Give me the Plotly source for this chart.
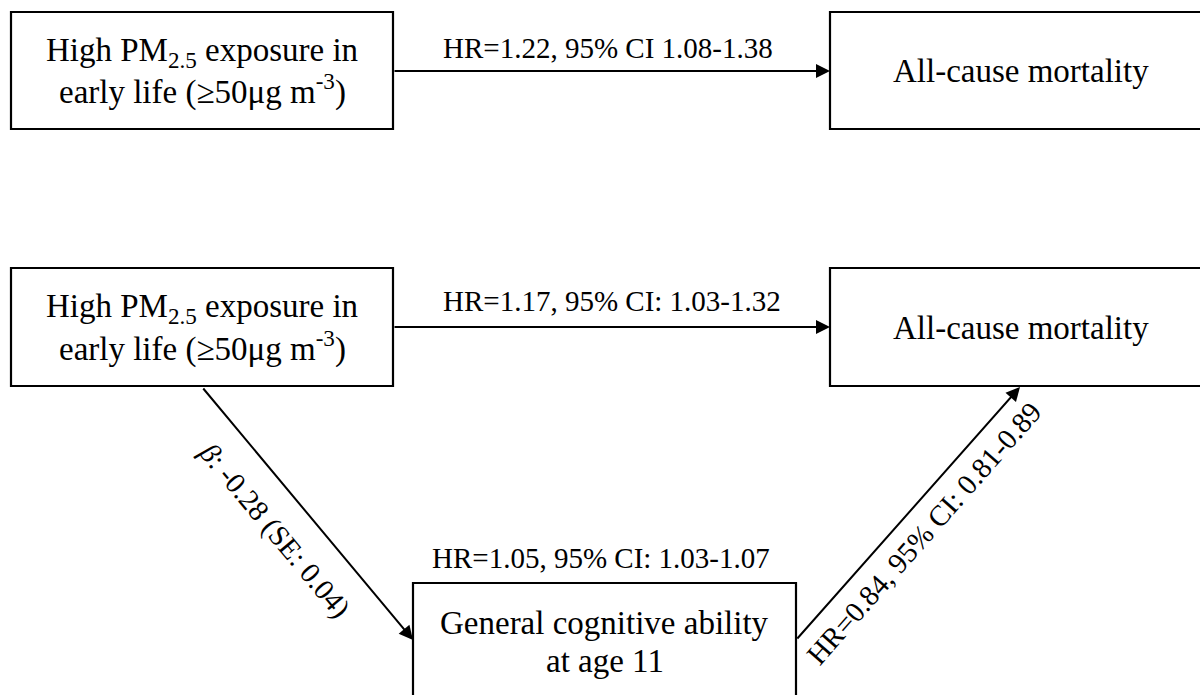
import plotly.graph_objects as go

# ---- content ----
box_lines = [
    ["High PM<sub>2.5</sub> exposure in", "early life (≥50μg m<sup>-3</sup>)"],
    ["All-cause mortality"],
    ["High PM<sub>2.5</sub> exposure in", "early life (≥50μg m<sup>-3</sup>)"],
    ["All-cause mortality"],
    ["General cognitive ability", "at age 11"],
]
edge_labels = [
    "HR=1.22, 95% CI 1.08-1.38",
    "HR=1.17, 95% CI: 1.03-1.32",
    "<i>β</i>: -0.28 (SE: 0.04)",
    "HR=0.84, 95% CI: 0.81-0.89",
]
extra_labels = ["HR=1.05, 95% CI: 1.03-1.07"]

# ---- geometry (pixel layout) ----
box_x0 = [11, 830, 11, 830, 413]
box_x1 = [393, 1214, 393, 1214, 796]
box_y0 = [12, 12, 268, 268, 583]
box_y1 = [129, 129, 386, 386, 700]

# arrows: (tail_x, tail_y, head_x, head_y)
arrow_tx = [393, 393, 202, 796]
arrow_ty = [71, 327, 387, 640]
arrow_hx = [830, 830, 413, 1020]
arrow_hy = [71, 327, 640, 387]

label_x = [608, 612, 275, 924]
label_y = [48, 301, 530, 533]
label_angle = [0, 0, 50.2, -48.6]
extra_x = [601]
extra_y = [558]

FONT = "Liberation Serif, Times New Roman, serif"
BOX_SIZE = 33
LABEL_SIZE = 29
LINE_GAP = 37.5

fig = go.Figure()
fig.add_trace(go.Scatter(x=[0, 1200], y=[0, 695], mode="markers",
                         marker=dict(opacity=0), hoverinfo="skip", showlegend=False))

for i, lines in enumerate(box_lines):
    fig.add_shape(type="rect", xref="x", yref="y",
                  x0=box_x0[i], x1=box_x1[i], y0=box_y0[i], y1=box_y1[i],
                  line=dict(color="black", width=2.2), fillcolor="white", layer="below")
    cx = (box_x0[i] + box_x1[i]) / 2
    if i in (1, 3):
        cx = (box_x0[i] + 1212) / 2
    cy = (box_y0[i] + min(box_y1[i], 700)) / 2 + 0.5
    n = len(lines)
    for j, t in enumerate(lines):
        ly = cy + (j - (n - 1) / 2) * LINE_GAP
        fig.add_annotation(x=cx, y=ly, xref="x", yref="y", text=t, showarrow=False,
                           xanchor="center", yanchor="middle",
                           font=dict(family=FONT, size=BOX_SIZE, color="black"))

for i in range(len(arrow_tx)):
    fig.add_annotation(x=arrow_hx[i], y=arrow_hy[i], ax=arrow_tx[i], ay=arrow_ty[i],
                       xref="x", yref="y", axref="x", ayref="y", text="",
                       showarrow=True, arrowhead=2, arrowsize=1.4, arrowwidth=2,
                       arrowcolor="black", standoff=0, startstandoff=0)

for i, t in enumerate(edge_labels):
    fig.add_annotation(x=label_x[i], y=label_y[i], xref="x", yref="y", text=t,
                       showarrow=False, textangle=label_angle[i],
                       xanchor="center", yanchor="middle",
                       font=dict(family=FONT, size=LABEL_SIZE, color="black"))

for i, t in enumerate(extra_labels):
    fig.add_annotation(x=extra_x[i], y=extra_y[i], xref="x", yref="y", text=t,
                       showarrow=False, xanchor="center", yanchor="middle",
                       font=dict(family=FONT, size=LABEL_SIZE, color="black"))

fig.update_xaxes(range=[0, 1200], visible=False, fixedrange=True)
fig.update_yaxes(range=[695, 0], visible=False, fixedrange=True)
fig.update_layout(width=1200, height=695, margin=dict(l=0, r=0, t=0, b=0),
                  plot_bgcolor="white", paper_bgcolor="white", showlegend=False)

fig.write_html("out.html", config={"displayModeBar": False},
               post_script="document.body.style.margin='0';document.body.style.overflow='hidden';")
